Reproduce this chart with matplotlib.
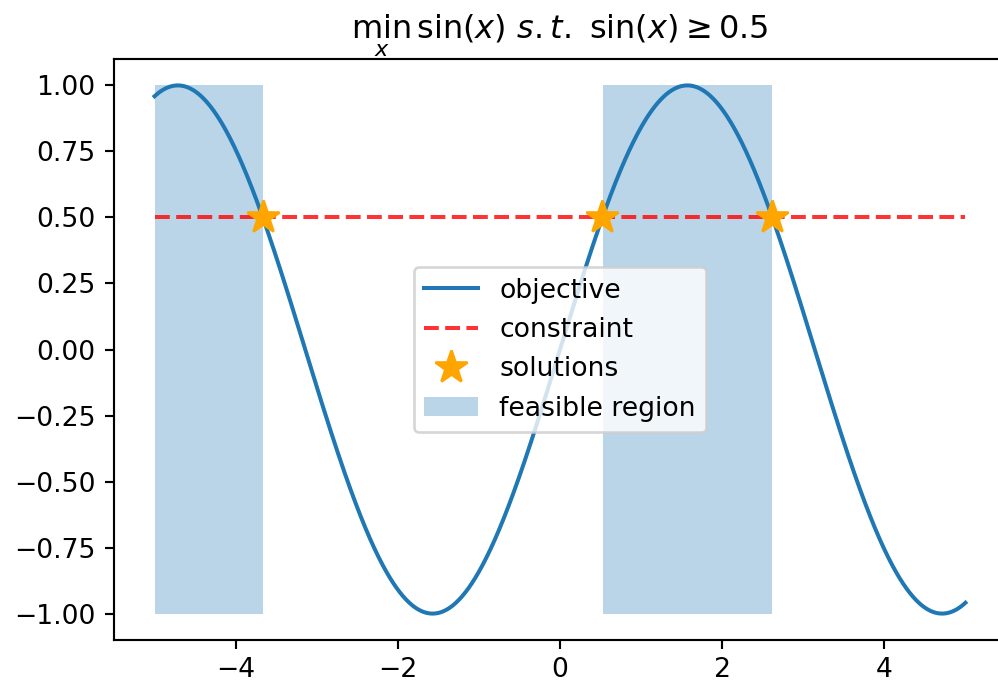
import numpy as np
import matplotlib
matplotlib.use("Agg")
import matplotlib.pyplot as plt

# Data
x_start, x_end, n_points = -5.0, 5.0, 1000
constraint_level = 0.5
solutions_x = [-3.665, 0.524, 2.618]
solutions_y = [0.5, 0.5, 0.5]
feasible_low, feasible_high = -1.0, 1.0

x = np.linspace(x_start, x_end, n_points)
objective = np.sin(x)  # objective defined in title: sin(x)
constraint = np.full_like(x, constraint_level)

DPI = 192
fig = plt.figure(figsize=(998 / DPI, 682 / DPI), dpi=DPI)
ax = fig.add_axes([114 / 998, 42 / 682, (1006 - 114) / 998, (640 - 59) / 682])

ax.plot(x, objective, label="objective")
ax.plot(x, constraint, "r--", alpha=0.8, label="constraint")
ax.plot(solutions_x, solutions_y, "*", color="orange", markersize=13,
        label="solutions")
ax.fill_between(x, feasible_low, feasible_high,
                where=objective >= constraint_level,
                alpha=0.3, label="feasible region", linewidth=0)

ax.spines["right"].set_visible(False)
ax.tick_params(axis="x", pad=2.8)
ax.set_title(r"$\min_x\,\sin(x)\ s.t.\ \sin(x) \geq 0.5$")
ax.legend(loc="center")

fig.savefig("out.png", dpi=DPI)
